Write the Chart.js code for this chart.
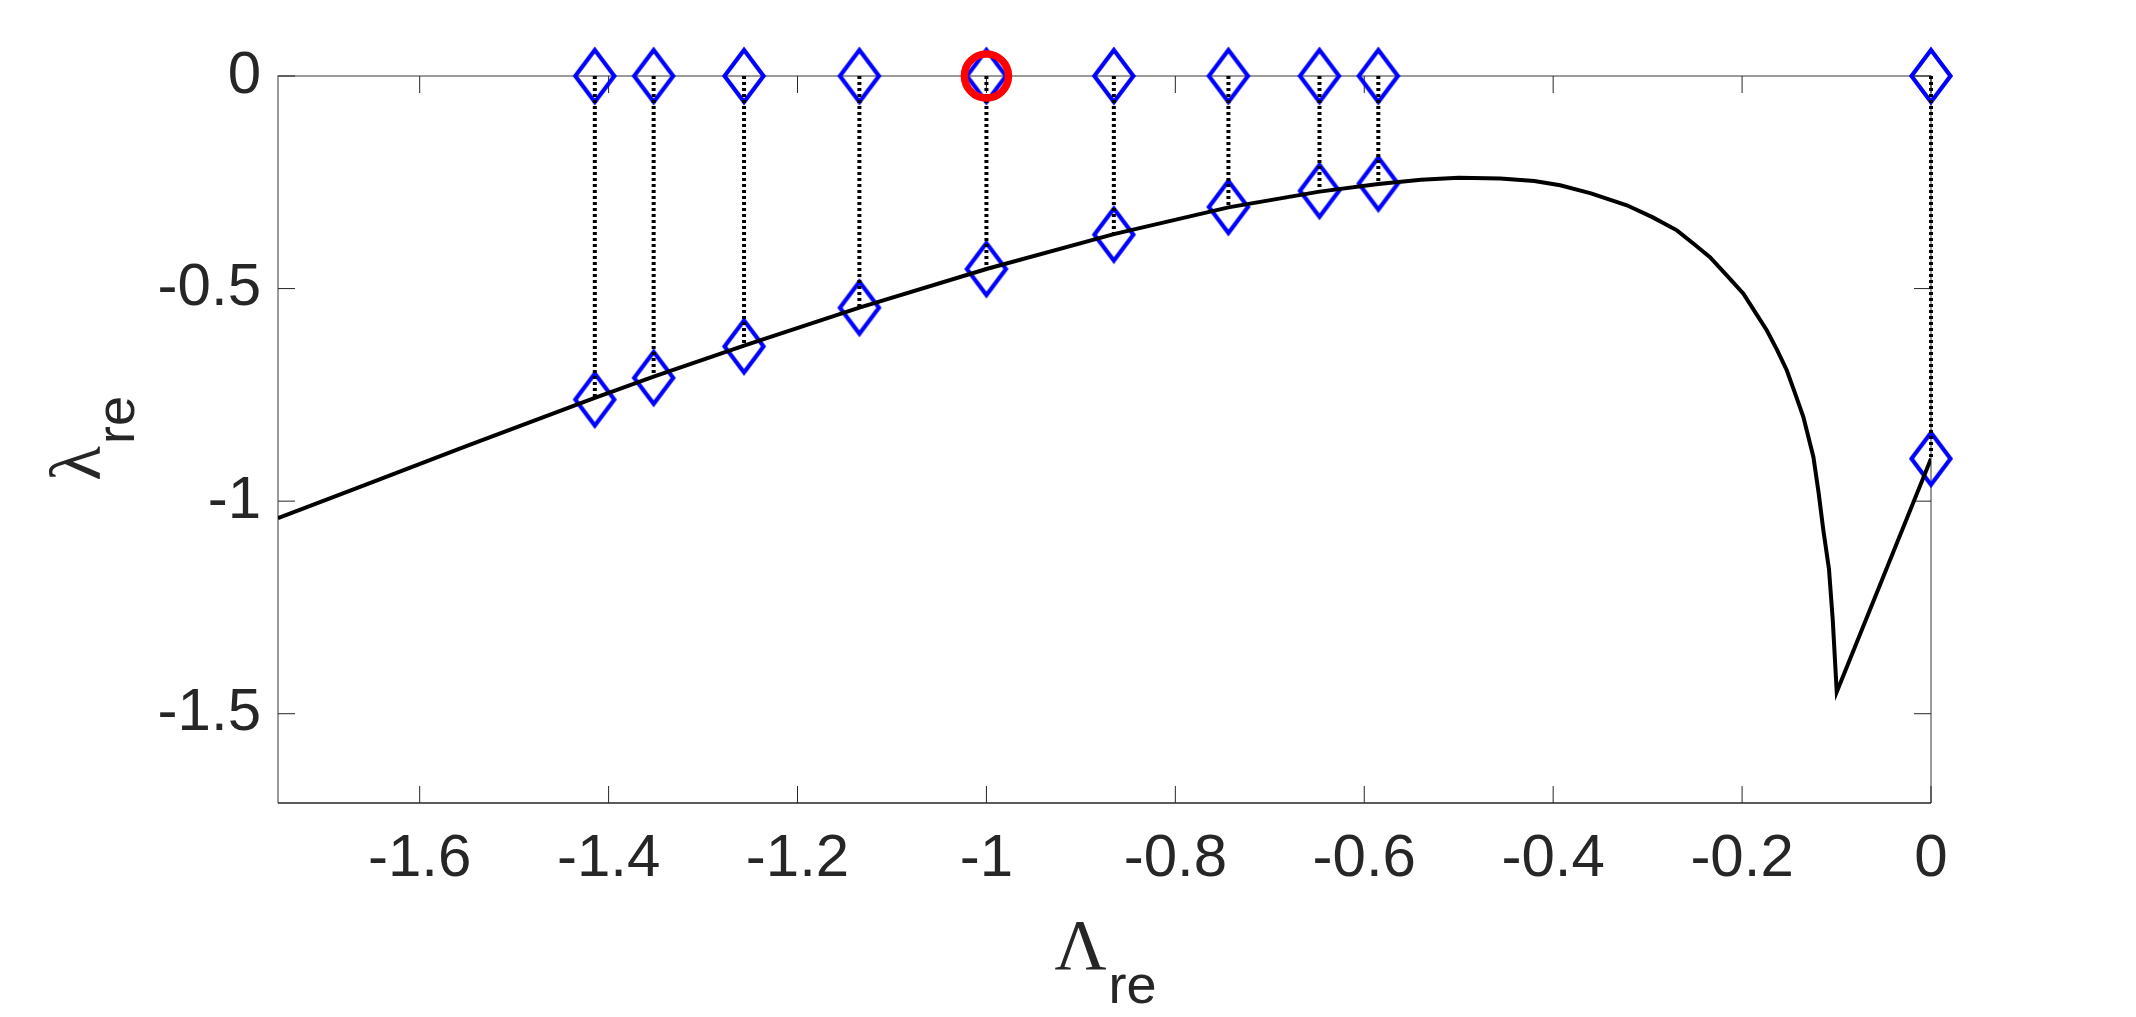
<!DOCTYPE html>
<html>
<head>
<meta charset="utf-8">
<script src="https://cdn.jsdelivr.net/npm/chart.js@4.4.0/dist/chart.umd.min.js"></script>
<style>
  html, body { margin: 0; padding: 0; background: #fff; }
  #wrap { position: relative; width: 2136px; height: 1017px; }
</style>
</head>
<body>
<div id="wrap"><canvas id="chart"></canvas></div>
<script>
// black curve lambda_re(Lambda_re)
const curveX = [-1.75, -1.65, -1.55, -1.4146, -1.3523, -1.2566, -1.1345, -1.0, -0.8651, -0.7438,
  -0.6474, -0.5851, -0.54, -0.5, -0.456, -0.42, -0.3926, -0.36, -0.322, -0.295,
  -0.269, -0.25, -0.234, -0.215, -0.1986, -0.186, -0.1739, -0.163, -0.1527, -0.144,
  -0.1351, -0.1245, -0.119, -0.114, -0.108, -0.104, -0.0998, 0];
const curveY = [-1.040, -0.955, -0.870, -0.757, -0.707, -0.634, -0.545, -0.454, -0.372, -0.309,
  -0.272, -0.254, -0.244, -0.2395, -0.241, -0.247, -0.257, -0.276, -0.304, -0.332,
  -0.363, -0.397, -0.426, -0.472, -0.512, -0.556, -0.598, -0.644, -0.692, -0.746,
  -0.802, -0.896, -0.980, -1.068, -1.160, -1.280, -1.449, -0.900];

// eigenvalues: on the axis and on the curve
const eigX = [-1.4146, -1.3523, -1.2566, -1.1345, -1.0, -0.8651, -0.7438, -0.6474, -0.5851, 0];
const eigY = [-0.761, -0.710, -0.636, -0.545, -0.454, -0.373, -0.308, -0.270, -0.253, -0.900];
const axisY = [0, 0, 0, 0, 0, 0, 0, 0, 0, 0];

// highlighted point
const markX = [-1];
const markY = [0];

const xTicks = [-1.6, -1.4, -1.2, -1, -0.8, -0.6, -0.4, -0.2, 0];
const yTicks = [0, -0.5, -1, -1.5];

const ink = '#262626';
const tickFont = { family: "'Liberation Sans', Arial, sans-serif", size: 60 };
const greekFont = "72px 'Liberation Serif', 'Times New Roman', serif";
const subFont = "54px 'Liberation Sans', Arial, sans-serif";

function pts(xs, ys) {
  return xs.map((x, i) => ({ x: x, y: ys[i] }));
}

// dotted connectors, one segment per eigenvalue pair
function stemPoints() {
  const out = [];
  eigX.forEach((x, i) => {
    out.push({ x: x, y: axisY[i] }, { x: x, y: eigY[i] }, { x: x, y: null });
  });
  return out;
}

function diamondSprite() {
  const c = document.createElement('canvas');
  c.width = 50;
  c.height = 64;
  const g = c.getContext('2d');
  g.strokeStyle = '#0000ff';
  g.lineWidth = 4.2;
  g.beginPath();
  g.moveTo(25, 6);
  g.lineTo(44.5, 32);
  g.lineTo(25, 58);
  g.lineTo(5.5, 32);
  g.closePath();
  g.stroke();
  return c;
}

function fmt(v) {
  const r = Math.round(v * 10) / 10;
  return r === 0 ? '0' : String(r);
}

// MATLAB style box with inward ticks
const frame = {
  id: 'frame',
  beforeDatasetsDraw(chart) {
    const { ctx, chartArea: a, scales } = chart;
    const tl = 17;
    ctx.save();
    ctx.lineWidth = 1.5;
    ctx.strokeStyle = '#7a7a7a';
    ctx.beginPath();
    ctx.moveTo(a.left, a.bottom);
    ctx.lineTo(a.left, a.top);
    ctx.lineTo(a.right, a.top);
    ctx.lineTo(a.right, a.bottom);
    ctx.stroke();
    ctx.strokeStyle = ink;
    ctx.beginPath();
    ctx.moveTo(a.left, a.bottom);
    ctx.lineTo(a.right, a.bottom);
    ctx.stroke();
    ctx.lineWidth = 1;
    ctx.beginPath();
    xTicks.forEach(v => {
      const px = scales.x.getPixelForValue(v);
      ctx.moveTo(px, a.bottom); ctx.lineTo(px, a.bottom - tl);
      ctx.moveTo(px, a.top); ctx.lineTo(px, a.top + tl);
    });
    yTicks.forEach(v => {
      const py = scales.y.getPixelForValue(v);
      ctx.moveTo(a.left, py); ctx.lineTo(a.left + tl, py);
      ctx.moveTo(a.right, py); ctx.lineTo(a.right - tl, py);
    });
    ctx.stroke();
    ctx.restore();
  }
};

function drawSubLabel(ctx, main, sub, cx, baseY) {
  ctx.font = greekFont;
  const w1 = ctx.measureText(main).width;
  ctx.font = subFont;
  const w2 = ctx.measureText(sub).width;
  const x0 = cx - (w1 + w2) / 2;
  ctx.textAlign = 'left';
  ctx.textBaseline = 'alphabetic';
  ctx.font = greekFont;
  ctx.fillText(main, x0, baseY);
  ctx.font = subFont;
  ctx.fillText(sub, x0 + w1 + 2, baseY + 34);
}

const axisTitles = {
  id: 'axisTitles',
  afterDraw(chart) {
    const { ctx, chartArea: a } = chart;
    ctx.save();
    ctx.fillStyle = ink;
    drawSubLabel(ctx, 'Λ', 're', (a.left + a.right) / 2, 969);
    ctx.translate(100, (a.top + a.bottom) / 2);
    ctx.rotate(-Math.PI / 2);
    drawSubLabel(ctx, 'λ', 're', 0, 0);
    ctx.restore();
  }
};

const diamond = diamondSprite();

new Chart(document.getElementById('chart'), {
  type: 'scatter',
  data: {
    datasets: [
      {
        label: 'marked',
        data: pts(markX, markY),
        pointStyle: 'circle',
        pointRadius: 22,
        pointBorderWidth: 7.5,
        borderColor: '#ff0000',
        backgroundColor: 'rgba(0,0,0,0)',
        clip: false,
        order: 0,
      },
      {
        label: 'stems',
        data: stemPoints(),
        showLine: true,
        spanGaps: false,
        borderColor: '#000000',
        borderWidth: 4,
        borderDash: [3, 3],
        pointRadius: 0,
        clip: false,
        order: 1,
      },
      {
        label: 'curve',
        data: pts(curveX, curveY),
        showLine: true,
        borderColor: '#000000',
        borderWidth: 4,
        tension: 0,
        pointRadius: 0,
        order: 2,
      },
      {
        label: 'eig curve',
        data: pts(eigX, eigY),
        pointStyle: diamond,
        pointRadius: 5,
        clip: false,
        order: 3,
      },
      {
        label: 'eig axis',
        data: pts(eigX, axisY),
        pointStyle: diamond,
        pointRadius: 5,
        clip: false,
        order: 3,
      },
    ],
  },
  options: {
    responsive: true,
    maintainAspectRatio: false,
    animation: false,
    events: [],
    layout: { padding: { left: 0, top: 76, right: 205, bottom: 0 } },
    plugins: {
      legend: { display: false },
      tooltip: { enabled: false },
    },
    scales: {
      x: {
        type: 'linear',
        position: 'bottom',
        min: -1.75,
        max: 0,
        afterBuildTicks: s => { s.ticks = xTicks.map(v => ({ value: v })); },
        afterFit: s => { s.height = 214; },
        grid: { display: false, drawTicks: false },
        border: { display: false },
        ticks: { font: tickFont, color: ink, padding: 20, maxRotation: 0, autoSkip: false, callback: fmt },
      },
      y: {
        type: 'linear',
        min: -1.71,
        max: 0,
        afterBuildTicks: s => { s.ticks = yTicks.map(v => ({ value: v })); },
        afterFit: s => { s.width = 278; },
        grid: { display: false, drawTicks: false },
        border: { display: false },
        ticks: { font: tickFont, color: ink, padding: 17, autoSkip: false, callback: fmt },
      },
    },
  },
  plugins: [frame, axisTitles],
});
</script>
</body>
</html>
